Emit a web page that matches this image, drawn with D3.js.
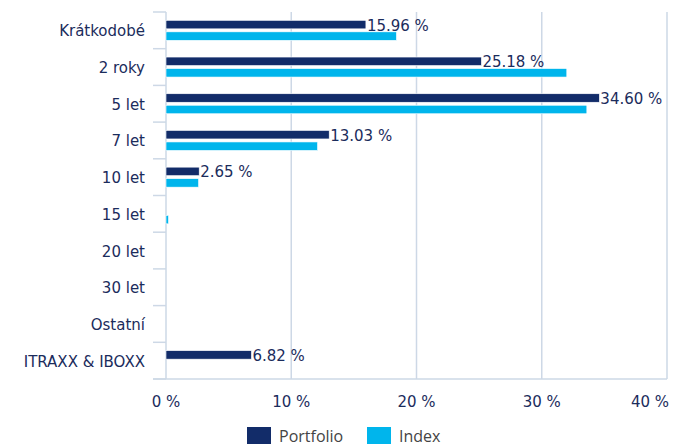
<!DOCTYPE html>
<html>
<head>
<meta charset="utf-8">
<script src="https://cdn.jsdelivr.net/npm/d3@7"></script>
<style>
  body { margin: 0; background: #fff; }
  svg text { font-family: "DejaVu Sans", Verdana, sans-serif; }
</style>
</head>
<body>
<svg id="chart"></svg>
<script>
var categories = ["Krátkodobé", "2 roky", "5 let", "7 let", "10 let", "15 let", "20 let", "30 let", "Ostatní", "ITRAXX & IBOXX"];
var portfolio = [15.96, 25.18, 34.60, 13.03, 2.65, 0, 0, 0, 0, 6.82];
var index = [18.4, 32.0, 33.6, 12.1, 2.6, 0.2, 0, 0, 0, 0];
var xTicks = [0, 10, 20, 30, 40];
var seriesNames = ["Portfolio", "Index"];
var colors = ["#122c69", "#00b5ec"];

var width = 683, height = 446;
var margin = {top: 12, right: 16, bottom: 67, left: 166};

var svg = d3.select('#chart').attr('width', width).attr('height', height);

var x = d3.scaleLinear().domain([0, 40]).range([margin.left, width - margin.right]);
var y = d3.scaleBand().domain(categories).range([margin.top, height - margin.bottom]);

// grid lines
svg.append('g').selectAll('line')
    .data(xTicks)
    .enter().append('line')
    .attr('x1', function(d) { return x(d); })
    .attr('x2', function(d) { return x(d); })
    .attr('y1', margin.top)
    .attr('y2', height - margin.bottom)
    .attr('stroke', '#cdd8e6')
    .attr('stroke-width', 1.5);

// category tick marks
var tickYs = categories.map(function(c) { return y(c); }).concat([y.range()[1]]);
svg.append('g').selectAll('line')
    .data(tickYs)
    .enter().append('line')
    .attr('x1', margin.left - 13)
    .attr('x2', margin.left)
    .attr('y1', function(d) { return d; })
    .attr('y2', function(d) { return d; })
    .attr('stroke', '#cdd8e6')
    .attr('stroke-width', 1.5);

// bottom axis line
svg.append('line')
    .attr('x1', margin.left - 13)
    .attr('x2', width - margin.right)
    .attr('y1', height - margin.bottom)
    .attr('y2', height - margin.bottom)
    .attr('stroke', '#cdd8e6')
    .attr('stroke-width', 1.5);

var barH = 8.5, gap = 3;
var series = [portfolio, index];

var barY = function(i, si) {
  var c = y(categories[i]) + y.bandwidth() / 2;
  return si === 0 ? c - gap / 2 - barH : c + gap / 2;
};

series.forEach(function(vals, si) {
  svg.append('g').selectAll('rect')
      .data(vals)
      .enter().append('rect')
      .attr('x', x(0))
      .attr('y', function(d, i) { return barY(i, si); })
      .attr('width', function(d) { return x(d) - x(0); })
      .attr('height', barH)
      .attr('fill', colors[si])
      .attr('stroke', '#fff')
      .attr('stroke-width', 0.6)
      .style('display', function(d) { return d > 0 ? null : 'none'; });
});

// portfolio value labels
svg.append('g').selectAll('text')
    .data(portfolio)
    .enter().append('text')
    .attr('x', function(d) { return x(d) + 1; })
    .attr('y', function(d, i) { return barY(i, 0) + barH / 2 + 6; })
    .attr('font-size', 15)
    .attr('fill', '#1b2c5c')
    .style('display', function(d) { return d > 0 ? null : 'none'; })
    .text(function(d) { return d.toFixed(2) + ' %'; });

// category labels
svg.append('g').selectAll('text')
    .data(categories)
    .enter().append('text')
    .attr('x', margin.left - 21)
    .attr('y', function(d) { return y(d) + y.bandwidth() / 2 + 6; })
    .attr('text-anchor', 'end')
    .attr('font-size', 15)
    .attr('fill', '#1b2c5c')
    .text(function(d) { return d; });

// x tick labels (last one pulled inside the chart edge)
svg.append('g').selectAll('text')
    .data(xTicks)
    .enter().append('text')
    .attr('x', function(d, i) { return i === xTicks.length - 1 ? x(d) + 2 : x(d); })
    .attr('y', height - margin.bottom + 28)
    .attr('text-anchor', function(d, i) { return i === xTicks.length - 1 ? 'end' : 'middle'; })
    .attr('font-size', 15)
    .attr('fill', '#1b2c5c')
    .text(function(d) { return d + ' %'; });

// legend
var legend = svg.append('g').attr('transform', 'translate(247,427)');
var legendX = [0, 120];
seriesNames.forEach(function(name, i) {
  legend.append('rect')
      .attr('x', legendX[i])
      .attr('y', 0)
      .attr('width', 24)
      .attr('height', 17)
      .attr('fill', colors[i]);
  legend.append('text')
      .attr('x', legendX[i] + 32)
      .attr('y', 15)
      .attr('font-size', 16)
      .attr('fill', '#444')
      .style('font-family', '"Open Sans", sans-serif')
      .text(name);
});
</script>
</body>
</html>
